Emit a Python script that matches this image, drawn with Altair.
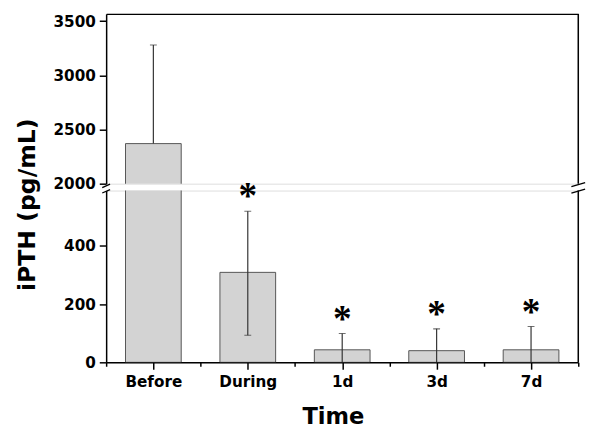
import altair as alt
import pandas as pd

categories = ["Before", "During", "1d", "3d", "7d"]
means = [2370, 309, 43, 40, 43]
err_low = [2370, 93, 0, 0, 0]
err_high = [3280, 519, 99, 115, 123]
signif = ["", "*", "*", "*", "*"]

upper_ticks = [2000, 2250, 2500, 2750, 3000, 3250, 3500]
lower_ticks = [0, 100, 200, 300, 400, 500]
x_ticks = [-0.5, 0, 0.5, 1, 1.5, 2, 2.5, 3, 3.5, 4, 4.5]

df = pd.DataFrame({
    "idx": list(range(len(categories))),
    "cat": categories,
    "mean": means,
    "lo": err_low,
    "hi": err_high,
    "sig": signif,
})

FONT = "DejaVu Sans"
LBL = 15.5
TTL = 23
W = 481
H_UP = 173
H_LO = 175
HALF = 0.295
BAR_FILL = "#d3d3d3"
BAR_STROKE = "#555555"
ERR = "#333333"

x_scale = alt.Scale(domain=[-0.5, 4.5], nice=False, zero=False)
label_list = "[" + ",".join("'" + c + "'" for c in categories) + "]"

base = alt.Chart(df).transform_calculate(
    xa=f"datum.idx - {HALF}", xb=f"datum.idx + {HALF}"
)
deco = alt.Chart(pd.DataFrame({"k": [0]}))


def y_axis(values, major, **kw):
    return alt.Axis(
        values=values, format="d",
        labelExpr=f"datum.value % {major} === 0 ? datum.label : ''",
        tickSize={"condition": {"test": f"datum.value % {major} === 0", "value": 7}, "value": 4},
        domainColor="black", domainWidth=1.5, tickColor="black", tickWidth=1.5,
        labelFont=FONT, labelFontSize=LBL, labelFontWeight="bold", labelColor="black",
        labelPadding=4, grid=False, **kw,
    )


def line(x1, x2, y1, y2, w=1.5):
    return deco.mark_rule(color="black", strokeWidth=w).encode(
        x=alt.value(x1), x2=alt.value(x2), y=alt.value(y1), y2=alt.value(y2))


def panel(ys, height, yaxis, xaxis, show_sig, extra):
    bars = base.mark_bar(fill=BAR_FILL, stroke=BAR_STROKE, strokeWidth=1, clip=True).encode(
        x=alt.X("xa:Q", scale=x_scale, axis=xaxis),
        x2="xb:Q",
        y=alt.Y("mean:Q", scale=ys, axis=yaxis),
        y2=alt.datum(0),
    )
    whisk = base.mark_rule(color=ERR, strokeWidth=1.2, clip=True).encode(
        x=alt.X("idx:Q", scale=x_scale),
        y=alt.Y("lo:Q", scale=ys),
        y2="hi:Q",
    )
    caps = base.transform_fold(["lo", "hi"], as_=["which", "v"]).transform_filter(
        "datum.v > 0 && datum.v != datum.mean"
    ).mark_tick(color=ERR, orient="horizontal", size=7, thickness=1.2, clip=True).encode(
        x=alt.X("idx:Q", scale=x_scale),
        y=alt.Y("v:Q", scale=ys),
    )
    layers = [bars, whisk, caps]
    if show_sig:
        stars = base.transform_filter("datum.sig != ''").mark_text(
            font="Liberation Serif", fontSize=38, fontWeight="bold", color="black",
            baseline="alphabetic", dy=-3,
        ).encode(
            x=alt.X("idx:Q", scale=x_scale),
            y=alt.Y("hi:Q", scale=ys),
            text="sig:N",
        )
        layers.append(stars)
    layers += extra
    return alt.layer(*layers).properties(width=W, height=height)


upper_x_axis = alt.Axis(orient="top", labels=False, ticks=False, domainColor="black",
                        domainWidth=1.5, grid=False, title=None)
lower_x_axis = alt.Axis(
    values=x_ticks,
    labelExpr=f"datum.value % 1 === 0 ? {label_list}[datum.value] : ''",
    tickSize={"condition": {"test": "datum.value % 1 === 0", "value": 7}, "value": 4},
    domainColor="black", domainWidth=1.5, tickColor="black", tickWidth=1.5,
    labelFont=FONT, labelFontSize=LBL, labelFontWeight="bold", labelColor="black",
    labelPadding=6, grid=False, title="Time", titleFont=FONT, titleFontSize=TTL,
    titleFontWeight="bold", titleColor="black", titlePadding=16, titleX=231,
)

up_scale = alt.Scale(domain=[2000, 3567], nice=False, zero=False)
lo_scale = alt.Scale(domain=[0, 590], nice=False, zero=False)

upper = panel(
    up_scale, H_UP, y_axis(upper_ticks, 500, title=None), upper_x_axis, False,
    [line(W, W, 0, H_UP)],
)
lower = panel(
    lo_scale, H_LO,
    y_axis(lower_ticks, 200, title="iPTH (pg/mL)", titleFont=FONT, titleFontSize=24,
           titleFontWeight="bold", titleColor="black", titleAngle=-90, titleX=-80,
           titleY=14, titleAlign="center", titleBaseline="middle"),
    lower_x_axis, True,
    [
        line(W, W, 0, H_LO),
        line(-4, 4, -3, -6.5, 1.3),
        line(-4, 4, 2.5, -1, 1.3),
        line(W - 7, W + 7, -4, -8, 1.3),
        line(W - 7, W + 7, 2.5, -1.5, 1.3),
    ],
)

chart = alt.vconcat(upper, lower, spacing=7, bounds="flush").properties(
    padding={"left": 7, "top": 0, "right": 5, "bottom": 0}
).configure_view(stroke=None).configure(background="white")

chart.save("out.html", embed_options={"renderer": "svg", "actions": False})
